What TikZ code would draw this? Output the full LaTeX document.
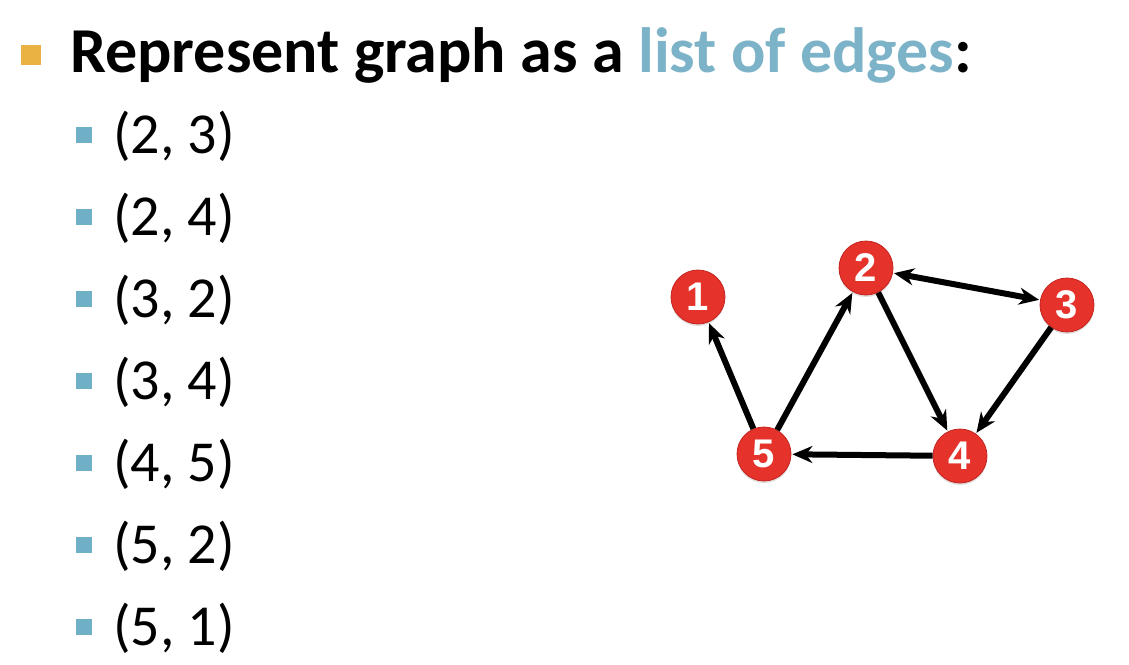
\documentclass[tikz,border=0pt]{standalone}
\usepackage{fontspec}
\setmainfont{Carlito}
\newfontfamily\nodefont{Liberation Sans}
\usetikzlibrary{arrows.meta,shadows}
\definecolor{vred}{HTML}{E5322B}
\definecolor{vedge}{HTML}{C42520}
\definecolor{tbul}{HTML}{E9B243}
\definecolor{lbul}{HTML}{6FB0C6}
\definecolor{hl}{HTML}{7DB3C8}
\begin{document}
\begin{tikzpicture}[x=1pt,y=-1pt,
  vertex/.style={circle, fill=vred, draw=vedge, line width=0.8pt, minimum size=54pt, inner sep=0pt, text=white, font=\nodefont\bfseries\fontsize{40}{40}\selectfont, drop shadow={shadow xshift=0pt, shadow yshift=-2pt, opacity=0.25}},
  conn/.style={line width=6pt, -{Stealth[length=20pt,width=17pt]}, shorten >=1pt},
  tbullet/.style={fill=tbul, minimum size=20pt, inner sep=0pt},
  lbullet/.style={fill=lbul, minimum size=16pt, inner sep=0pt},
  item/.style={anchor=base west, inner sep=0pt, font=\fontsize{58}{58}\selectfont},
  title/.style={anchor=base west, inner sep=0pt, font=\bfseries\fontsize{64}{64}\selectfont}]
\useasboundingbox (0,0) rectangle (1129,664);
\fill[white] (0,0) rectangle (1129,664);
% title
\node[tbullet] (tb) at (31,55) {};
\node[title] (t) at (70,72) {Represent graph as a \textcolor{hl}{list of edges}:};
% list
\foreach \txt [count=\i from 0] in {{(2, 3)},{(2, 4)},{(3, 2)},{(3, 4)},{(4, 5)},{(5, 2)},{(5, 1)}}{
  \node[lbullet] (b\i) at (83.5,{135+82*\i}) {};
  \node[item] (l\i) at (113,{153+82*\i}) {\txt};
}
% graph
\node[vertex] (n1) at (698,297) {1};
\node[vertex] (n2) at (866,268) {2};
\node[vertex] (n3) at (1067,305) {3};
\node[vertex] (n4) at (960,456) {4};
\node[vertex] (n5) at (764,454) {5};
\draw[conn, {Stealth[length=20pt,width=17pt]}-{Stealth[length=20pt,width=17pt]}, shorten <=1pt] (n2) -- (n3);
\draw[conn] (n2) -- (n4);
\draw[conn] (n3) -- (n4);
\draw[conn] (n4) -- (n5);
\draw[conn] (n5) -- (n2);
\draw[conn] (n5) -- (n1);
\end{tikzpicture}
\end{document}
